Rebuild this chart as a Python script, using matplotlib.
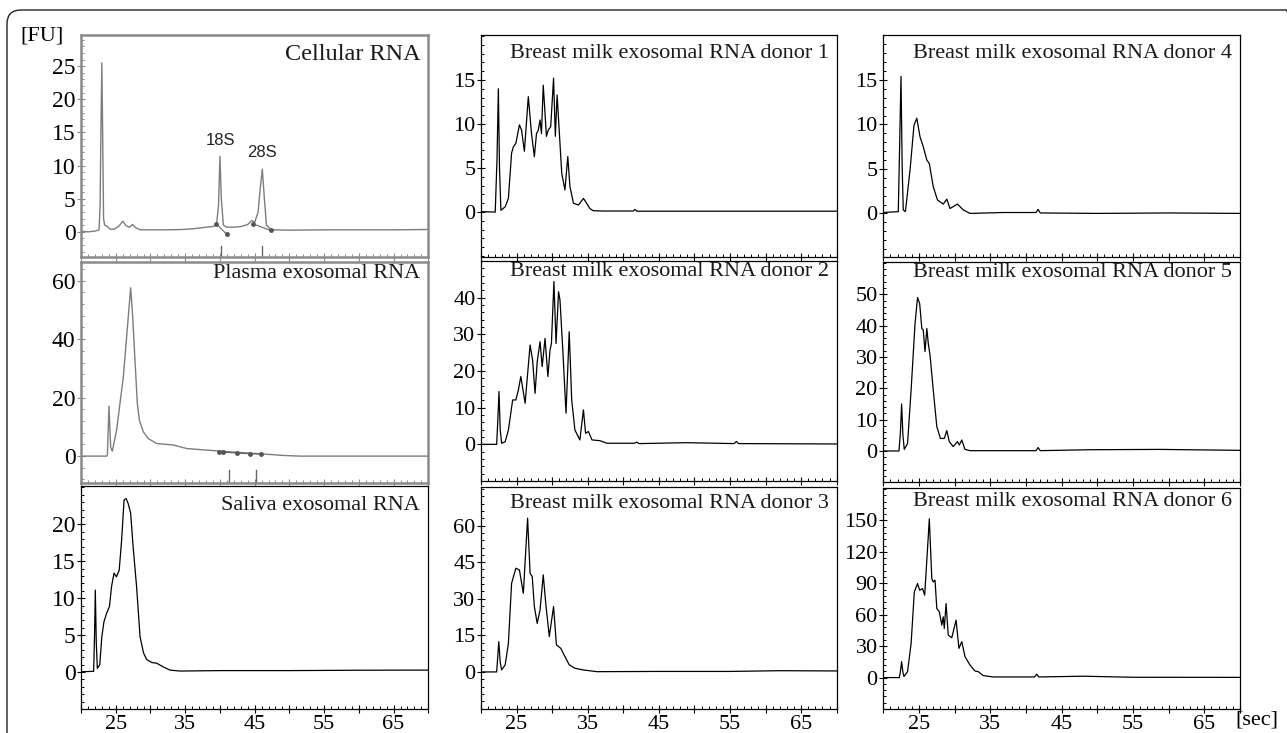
import matplotlib
matplotlib.use("Agg")
import matplotlib.pyplot as plt
from matplotlib.ticker import MultipleLocator
from matplotlib.patches import FancyBboxPatch
from matplotlib.transforms import IdentityTransform, blended_transform_factory

plt.rcParams['font.family'] = ['Liberation Serif', 'DejaVu Serif']

# ---------------- data (time in sec, fluorescence in FU) ----------------
cell_x = [20, 21, 22, 22.6, 22.75, 22.88, 23.0, 23.1, 23.25, 23.4, 23.7, 24.2, 24.8, 25.5, 26.0, 26.5,
          27.0, 27.4, 27.9, 28.5, 30, 32, 34.7, 36.5, 38, 39.0, 39.5, 39.8, 40.0, 40.2, 40.5, 41.0,
          42.0, 43.0, 44.0, 44.6, 45.0, 45.5, 45.8, 46.1, 46.4, 46.7, 47.4, 50, 55, 60, 65, 70]
cell_y = [0.1, 0.0, 0.1, 0.3, 4, 16, 25.5, 16.5, 2, 1.0, 0.9, 0.4, 0.4, 0.9, 1.6, 0.9,
          0.7, 1.1, 0.6, 0.3, 0.3, 0.3, 0.35, 0.5, 0.7, 0.8, 1.0, 4, 11.4, 5, 1.0, 0.7,
          0.7, 0.8, 1.1, 1.7, 1.4, 3.0, 6.5, 9.45, 5, 1.0, 0.3, 0.25, 0.3, 0.3, 0.3, 0.35]
cell_mark_x = [39.5, 41.0, 44.8, 47.3]
cell_mark_y = [1.2, -0.4, 1.2, 0.2]
cell_peak_x = [40.1, 46.0]
cell_peak_labels = ['18S', '28S']
cell_peak_label_y = [12.6, 10.9]

plas_x = [20, 23.7, 23.8, 24.03, 24.27, 24.51, 25.13, 25.61, 26.09, 26.57, 27.15, 27.44, 27.77, 28.11,
          28.4, 28.97, 29.69, 30.9, 33.3, 35.2, 38.1, 41.9, 45.8, 49.1, 51.5, 70]
plas_y = [0, 0, 0.5, 17.1, 3, 1.7, 8.9, 18, 27, 40.8, 57.6, 47.7, 32.8, 18,
          12.3, 8.3, 6.0, 4.3, 3.8, 2.6, 2.05, 1.4, 0.8, 0.23, 0, 0]
plas_mark_x = [39.9, 40.5, 42.5, 44.3, 45.9]
plas_mark_y = [1.3, 1.3, 1.0, 0.8, 0.7]
plas_peak_x = [41.3, 45.2]

sal_x = [20, 21.82, 21.95, 22.06, 22.2, 22.35, 22.7, 23.0, 23.3, 23.7, 24.1, 24.4, 24.75, 25.1, 25.5,
         25.85, 26.2, 26.5, 26.8, 27.15, 27.5, 28.0, 28.5, 29.0, 29.45, 30.2, 30.9, 31.85, 32.8,
         34.25, 40, 50, 60, 70]
sal_y = [0.05, 0.1, 5, 11.1, 4, 0.5, 1.0, 4.8, 6.8, 8.0, 8.9, 11.6, 13.4, 12.9, 13.8,
         17.9, 23.3, 23.5, 22.8, 21.5, 17, 11.6, 4.8, 2.6, 1.7, 1.3, 1.2, 0.7, 0.27,
         0.14, 0.2, 0.2, 0.25, 0.27]

d1_x = [20, 22.0, 22.25, 22.44, 22.6, 22.8, 23.4, 23.85, 24.3, 24.55, 24.9, 25.4, 25.7, 26.1, 26.65,
        27.1, 27.5, 27.8, 28.05, 28.3, 28.5, 28.75, 29.2, 29.45, 29.8, 30.2, 30.45, 30.7, 31.1,
        31.35, 31.8, 32.2, 32.5, 33.0, 33.7, 34.4, 34.85, 35.3, 35.8, 37.2, 41.4, 41.65, 41.9,
        50, 60, 70]
d1_y = [0.05, 0.0, 6, 14.0, 5, 0.2, 0.6, 1.55, 6.7, 7.4, 7.8, 9.9, 9.3, 6.9, 13.1,
        8.9, 6.3, 8.9, 9.3, 10.45, 8.9, 14.4, 8.6, 9.3, 9.7, 15.2, 8.6, 13.3, 7.8,
        4.4, 2.5, 6.3, 2.9, 1.0, 0.8, 1.55, 1.0, 0.4, 0.15, 0.12, 0.12, 0.3, 0.1,
        0.1, 0.1, 0.1]

d2_x = [20, 22.2, 22.35, 22.53, 22.7, 22.9, 23.4, 23.85, 24.45, 24.9, 25.25, 25.6, 26.2, 26.9, 27.25,
        27.6, 27.9, 28.3, 28.6, 29.0, 29.4, 29.7, 29.9, 30.25, 30.55, 30.9, 31.1, 31.5, 31.95,
        32.4, 32.75, 33.2, 33.9, 34.4, 34.7, 35.1, 35.6, 36.7, 37.7, 41.6, 41.9, 42.2, 48.9,
        55.6, 55.9, 56.2, 70]
d2_y = [0, 0, 6, 14.4, 4, 0.3, 0.7, 3.9, 12.1, 12.1, 14.8, 18.5, 11.2, 27.1, 23,
        13.9, 22.5, 28, 21.2, 28.9, 18.5, 25.7, 27.5, 44.4, 27.5, 41.6, 39.4, 25.7, 8.5,
        30.7, 12.1, 3.9, 1.2, 9.4, 3.0, 3.5, 1.2, 1.0, 0.3, 0.3, 0.6, 0.2, 0.45,
        0.2, 0.8, 0.2, 0.1]

d3_x = [20, 22.2, 22.35, 22.5, 22.7, 22.9, 23.4, 23.85, 24.3, 24.9, 25.4, 25.95, 26.55, 26.9, 27.2,
        27.5, 27.9, 28.3, 28.75, 29.1, 29.6, 30.2, 30.6, 31.2, 31.8, 32.4, 33.2, 34.4, 36.3,
        45, 55, 62, 70]
d3_y = [0, 0, 6, 12.4, 4, 0.8, 2.9, 11.7, 36.3, 42.5, 41.8, 32.2, 63, 40.4, 39.1,
        26.8, 19.9, 25.4, 39.8, 28.1, 14.5, 26.8, 11.1, 9.7, 6.3, 2.9, 1.5, 0.8, 0.1,
        0.2, 0.2, 0.5, 0.4]

d4_x = [20, 22.1, 22.3, 22.48, 22.65, 22.8, 23.1, 23.75, 24.3, 24.7, 25.15, 25.6, 26.1, 26.45, 27.0,
        27.6, 28.4, 28.9, 29.35, 30.4, 31.2, 32.15, 36.8, 41.4, 41.7, 42.0, 50, 60, 70]
d4_y = [0.1, 0.2, 8, 15.4, 5, 0.4, 0.2, 4.9, 9.9, 10.7, 8.6, 7.5, 6.0, 5.6, 3.0,
        1.5, 1.05, 1.6, 0.55, 1.05, 0.4, 0.0, 0.1, 0.1, 0.45, 0.05, 0.0, 0.05, 0.0]

d5_x = [20, 22.2, 22.4, 22.57, 22.75, 22.94, 23.4, 23.9, 24.45, 24.8, 25.1, 25.4, 25.6, 25.85, 26.1,
        26.3, 26.55, 27.0, 27.5, 28.0, 28.55, 28.9, 29.25, 29.8, 30.4, 30.65, 31.0, 31.45, 32.15,
        41.4, 41.7, 42.0, 49, 58.8, 70]
d5_y = [0, 0, 6, 15, 5, 0.5, 2.4, 19.5, 40.7, 49, 47, 39.1, 38.6, 31.7, 39.1,
        34.4, 30.6, 19.5, 7.8, 4.0, 4.0, 6.5, 3.0, 1.4, 3.0, 1.9, 3.5, 0.5, 0.1,
        0.1, 1.1, 0.1, 0.4, 0.5, 0.2]

d6_x = [20, 22.25, 22.4, 22.57, 22.75, 22.9, 23.4, 23.9, 24.35, 24.8, 25.1, 25.5, 25.8, 26.2, 26.45,
        26.8, 27.0, 27.25, 27.5, 27.85, 28.2, 28.4, 28.55, 28.8, 29.1, 29.6, 30.2, 30.6, 31.0,
        31.45, 32.15, 32.85, 33.3, 34.0, 35.4, 41.2, 41.5, 41.8, 48, 55, 70]
d6_y = [0, 0, 6, 15.2, 5, 1.0, 5.7, 32.7, 81.8, 89.8, 83.4, 85, 78.7, 123, 151.6,
        94.5, 91.3, 93, 66, 62.8, 50.1, 58, 46.9, 70.7, 40.6, 38, 54.9, 27.9, 34.3,
        20, 12, 6.3, 5.7, 1.9, 0.6, 0.6, 3.2, 0.6, 1.3, 0.3, 0.2]

titles = ['Cellular RNA', 'Plasma exosomal RNA', 'Saliva exosomal RNA',
          'Breast milk exosomal RNA donor 1', 'Breast milk exosomal RNA donor 2',
          'Breast milk exosomal RNA donor 3', 'Breast milk exosomal RNA donor 4',
          'Breast milk exosomal RNA donor 5', 'Breast milk exosomal RNA donor 6']
series = [(cell_x, cell_y), (plas_x, plas_y), (sal_x, sal_y),
          (d1_x, d1_y), (d2_x, d2_y), (d3_x, d3_y),
          (d4_x, d4_y), (d5_x, d5_y), (d6_x, d6_y)]
ylims = [(-3.8, 29.7), (-9.2, 66.4), (-5.0, 25.2),
         (-5.1, 20.1), (-10, 50), (-15.2, 75.8),
         (-4.9, 20.05), (-9.9, 60.3), (-30, 181)]
yticks = [[0, 5, 10, 15, 20, 25], [0, 20, 40, 60], [0, 5, 10, 15, 20],
          [0, 5, 10, 15], [0, 10, 20, 30, 40], [0, 15, 30, 45, 60],
          [0, 5, 10, 15], [0, 10, 20, 30, 40, 50], [0, 30, 60, 90, 120, 150]]
xticks = [25, 35, 45, 55, 65]

# ---------------- layout (pixels) ----------------
W, H = 1287, 733
fig = plt.figure(figsize=(W / 100, H / 100), dpi=100)
cols = [(81, 428.3), (481, 836.7), (883.3, 1240)]
rows = [[(35, 257), (262, 483), (486, 709)],
        [(35, 257), (261, 481), (487, 709)],
        [(35, 257), (262, 482), (488, 709)]]
title_off = [[20, 11, 19], [19, 11, 16], [19, 10, 13]]
title_size = [[17.5, 16, 16], [16, 16, 16], [16, 16, 16]]
ylabel_size = [17, 16, 16]

fmt = plt.FuncFormatter(lambda v, p: str(int(round(v))) if int(round(v)) in xticks else '')

axes = []
for c in range(3):
    for r in range(3):
        i = c * 3 + r
        x0, x1 = cols[c]
        t, b = rows[c][r]
        ax = fig.add_axes([x0 / W, 1 - b / H, (x1 - x0) / W, (b - t) / H])
        axes.append(ax)
        bio = (c == 0 and r < 2)
        lc = '#7d7d7d' if bio else 'black'
        xs, ys = series[i]
        ax.plot(xs, ys, color=lc, lw=1.0 if bio else 0.9)
        ax.set_xlim(20, 70)
        ax.set_ylim(*ylims[i])
        ax.xaxis.set_major_locator(MultipleLocator(5))
        ax.xaxis.set_minor_locator(MultipleLocator(1))
        ax.xaxis.set_major_formatter(fmt)
        if r != 2:
            ax.tick_params(axis='x', labelbottom=False)
        ax.set_yticks(yticks[i])
        ax.set_yticklabels([str(v) for v in yticks[i]])
        step = yticks[i][1] - yticks[i][0]
        ax.yaxis.set_minor_locator(MultipleLocator(step / 5))
        ax.tick_params(which='major', direction='inout', length=6, width=0.8,
                       pad=1, top=False, right=False)
        ax.tick_params(axis='y', labelsize=ylabel_size[c])
        ax.tick_params(axis='x', labelsize=16)
        ax.tick_params(which='minor', direction='in', length=2.5, width=0.7,
                       top=False, right=False)
        sc = '#8a8a8a' if bio else 'black'
        for s in ax.spines.values():
            s.set_color(sc)
            s.set_linewidth(1.8 if bio else 0.9)
        ax.tick_params(colors=sc, labelcolor='black', which='both')
        ax.annotate(titles[i], xy=(1, 1), xycoords='axes fraction',
                    xytext=(-8 * 0.72, -title_off[c][r] * 0.72), textcoords='offset points',
                    ha='right', va='center', fontsize=title_size[c][r], color='#1a1a1a')

# Bioanalyzer decorations on the first two panels
ax = axes[0]
ax.plot(cell_mark_x[:2], cell_mark_y[:2], color='#555555', lw=0.7)
ax.plot(cell_mark_x[2:], cell_mark_y[2:], color='#555555', lw=0.7)
ax.plot(cell_mark_x, cell_mark_y, 'o', color='#555555', ms=2.5)
bt = blended_transform_factory(ax.transData, ax.transAxes)
for px in cell_peak_x:
    ax.plot([px, px], [0, 0.05], color='#666666', lw=1.0, transform=bt)
for px, lab, ly in zip(cell_peak_x, cell_peak_labels, cell_peak_label_y):
    ax.text(px, ly, lab, ha='center', va='bottom', fontsize=12,
            family=['Liberation Sans', 'DejaVu Sans'], color='#222222')
ax = axes[1]
ax.plot(plas_mark_x, plas_mark_y, color='#555555', lw=0.7)
ax.plot(plas_mark_x, plas_mark_y, 'o', color='#555555', ms=2.5)
bt = blended_transform_factory(ax.transData, ax.transAxes)
for px in plas_peak_x:
    ax.plot([px, px], [0, 0.06], color='#666666', lw=1.0, transform=bt)

# axis unit labels
fig.text(42 / W, 1 - 36 / H, '[FU]', ha='center', va='center', fontsize=16)
fig.text(1257 / W, 1 - 720 / H, '[sec]', ha='center', va='center', fontsize=16)

# rounded outer frame
frame = FancyBboxPatch((7, -20), 1300 - 7, H - 10 + 20,
                       boxstyle='round,pad=0,rounding_size=14',
                       transform=IdentityTransform(), fill=False,
                       edgecolor='#222222', lw=1.0)
fig.add_artist(frame)

fig.savefig('out.png', dpi=100)
